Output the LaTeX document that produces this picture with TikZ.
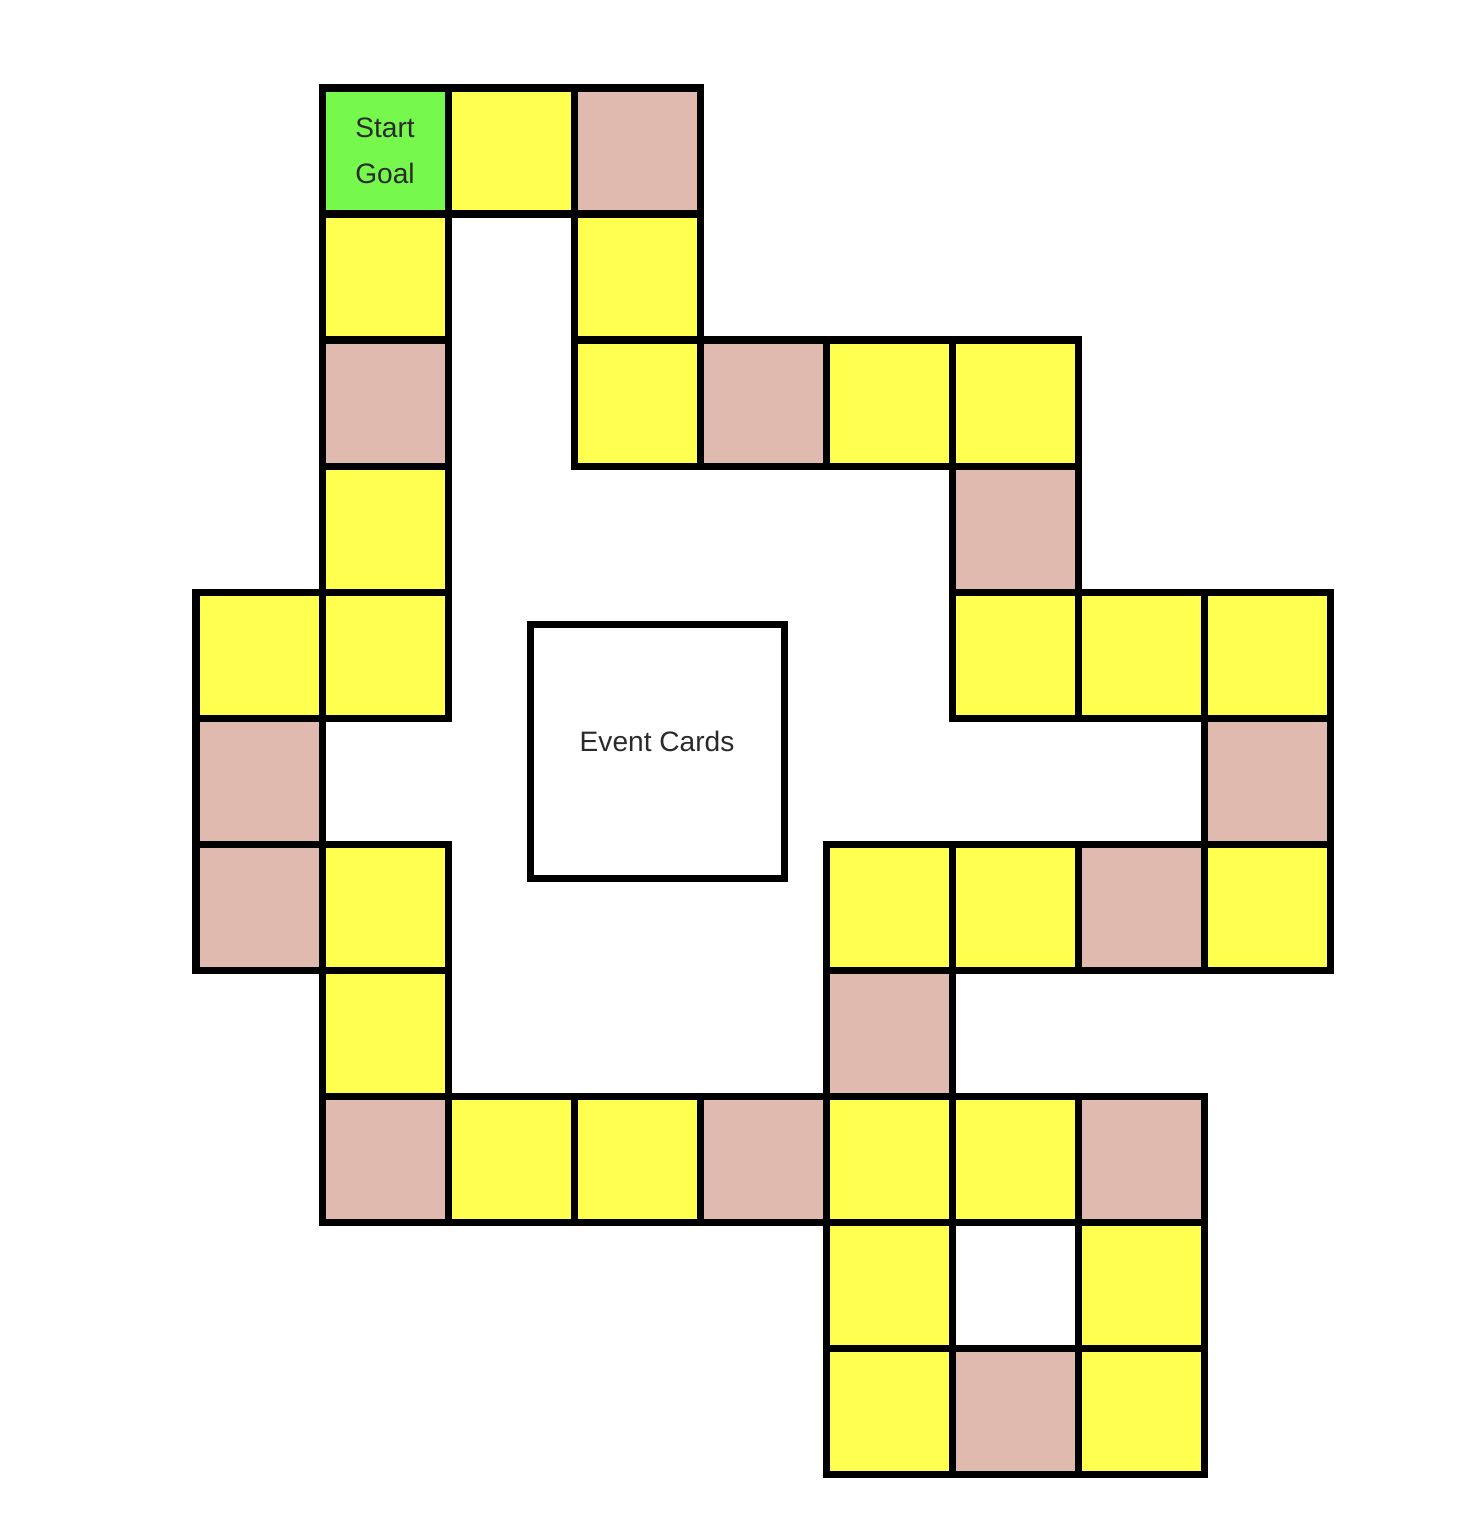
\documentclass[tikz,border=0pt]{standalone}
\usepackage{fontspec}
\setmainfont{Liberation Sans}
\usepackage{xcolor}
\usepackage{tikz}

% board colours
\definecolor{boardyellow}{HTML}{FFFF50}
\definecolor{boardpink}{HTML}{E0B9AF}
\definecolor{boardgreen}{HTML}{76F84D}
\definecolor{boardtext}{HTML}{2A2A2A}

\begin{document}
\begin{tikzpicture}[x=2.52cm, y=-2.52cm,
  square/.style={draw=black, line width=4pt, minimum size=2.52cm, inner sep=0pt, outer sep=0pt},
  boardfont/.style={font=\fontsize{16}{26}\selectfont, text=boardtext}]

\useasboundingbox (-2.0556,-1.1984) rectangle (9.690,10.952);

% Start / Goal square
\node[square, fill=boardgreen, boardfont, align=center] (sq-1-0) at (1,0) {Start\\Goal};

% Plain (yellow) squares
\foreach \c/\r in {2/0, 1/1, 3/1, 3/2, 5/2, 6/2, 1/3, 0/4, 1/4, 6/4, 7/4, 8/4,
                   1/6, 5/6, 6/6, 8/6, 1/7, 2/8, 3/8, 5/8, 6/8, 5/9, 7/9, 5/10, 7/10}
  \node[square, fill=boardyellow] (sq-\c-\r) at (\c,\r) {};

% Event (pink) squares
\foreach \c/\r in {3/0, 1/2, 4/2, 6/3, 0/5, 8/5, 0/6, 7/6, 5/7, 1/8, 4/8, 7/8, 6/10}
  \node[square, fill=boardpink] (sq-\c-\r) at (\c,\r) {};

% Event card pile in the middle
\node[square, fill=white, minimum size=5.08cm, boardfont, text height=0.4cm, text depth=0.4cm]
  (cards) at (3.159,4.762) {Event Cards};

\end{tikzpicture}
\end{document}
